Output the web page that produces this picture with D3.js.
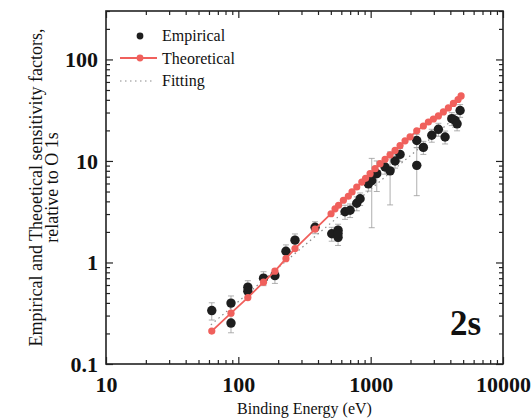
<!DOCTYPE html>
<html>
<head>
<meta charset="utf-8">
<script src="https://cdn.jsdelivr.net/npm/d3@7"></script>
<style>
  body { margin: 0; background: #fff; }
  svg { display: block; font-family: "Liberation Serif", "Times New Roman", serif; }
</style>
</head>
<body>
<div id="chart"></div>
<script>
// theoretical sensitivity factors (binding energy eV, value)
const theoE = [63, 88, 118, 155, 189, 229, 268, 380, 502, 538, 572, 622, 678, 723, 785, 857, 915, 990,
	1080, 1178, 1285, 1402, 1529, 1668, 1820, 1986, 2230, 2502, 2730, 2978, 3249, 3543, 3866, 4218, 4577, 4824];
const theoV = [0.211, 0.317, 0.451, 0.640, 0.821, 1.09, 1.37, 2.13, 3.02, 3.38, 3.66, 4.10, 4.49, 4.95, 5.54, 6.20, 6.74, 7.50,
	8.40, 9.41, 10.4, 11.5, 12.7, 14.2, 15.8, 17.3, 19.8, 22.1, 24.2, 25.9, 27.8, 30.4, 33.3, 36.9, 40.3, 43.7];

// empirical values with error
const empE = [63, 88, 88, 118, 118, 155, 189, 229, 268, 380, 508, 567, 567, 567, 640, 699, 785, 832, 961, 1019,
	1112, 1285, 1402, 1529, 1668, 2230, 2230, 2502, 2896, 3249, 3651, 4102, 4345, 4498, 4740];
const empV = [0.336, 0.398, 0.253, 0.571, 0.522, 0.701, 0.742, 1.29, 1.66, 2.22, 1.92, 2.08, 1.77, 1.93, 3.16, 3.27, 3.83, 4.24, 5.95, 6.4,
	7.50, 8.71, 7.99, 10.0, 11.6, 15.9, 9.05, 13.6, 17.9, 20.5, 17.2, 26.1, 25.1, 23.2, 31.4];
const empErr = [0.065, 0.07, 0.05, 0.09, 0.08, 0.11, 0.12, 0.2, 0.25, 0.3, 0.3, 0.3, 0.3, 0.3, 0.5, 0.5, 0.6, 0.6, 0.9, 4.2,
	2.5, 1.3, 4.3, 1.5, 1.7, 2.4, 4.5, 2.0, 2.6, 3.0, 2.5, 3.8, 3.6, 3.4, 4.5];

// fitting line end points
const fitE = [62, 4740];
const fitV = [0.243, 29.4];

const xTicks = [10, 100, 1000, 10000];
const xTickLabels = ['10', '100', '1000', '10000'];
const yTicks = [0.1, 1, 10, 100];
const yTickLabels = ['0.1', '1', '10', '100'];

const legendLabels = ['Empirical', 'Theoretical', 'Fitting'];
const xTitle = 'Binding Energy (eV)';
const yTitle = ['Empirical and Theoetical sensitivity factors,', 'relative to O 1s'];
const panelLabel = '2s';

const W = 531, H = 420;
const margin = {top: 11, right: 28, bottom: 56, left: 106};
const width = W - margin.left - margin.right;
const height = H - margin.top - margin.bottom;

const RED = '#f0605c';
const DARK = '#1e1e1e';

const svg = d3.select('#chart').append('svg')
	.attr('width', W)
	.attr('height', H);

const g = svg.append('g')
	.attr('transform', 'translate(' + margin.left + ',' + margin.top + ')');

const x = d3.scaleLog().domain([10, 10000]).range([0, width]);
const y = d3.scaleLog().domain([0.1, 300]).range([height, 0]);

const xMinor = x.ticks().filter(d => xTicks.indexOf(d) < 0);
const yMinor = y.ticks().filter(d => yTicks.map(t => +t.toPrecision(3)).indexOf(+d.toPrecision(3)) < 0);

// axes: major ticks with labels, minor ticks, mirrored on top/right
const axisStyle = (sel) => {
	sel.select('.domain').remove();
	sel.selectAll('line').attr('stroke', '#222').attr('stroke-width', 1.2);
};

g.append('g')
	.attr('transform', 'translate(0,' + height + ')')
	.call(d3.axisBottom(x).tickValues(xTicks).tickSize(-7).tickPadding(12)
		.tickFormat((d, i) => xTickLabels[i]))
	.call(axisStyle)
	.selectAll('text')
	.attr('font-family', '"Liberation Serif", serif')
	.attr('font-size', 22).attr('font-weight', 'bold').attr('fill', '#111');

g.append('g')
	.attr('transform', 'translate(0,' + height + ')')
	.call(d3.axisBottom(x).tickValues(xMinor).tickSize(-4).tickFormat(''))
	.call(axisStyle);

g.append('g')
	.call(d3.axisTop(x).tickValues(xTicks).tickSize(-7).tickFormat(''))
	.call(axisStyle);
g.append('g')
	.call(d3.axisTop(x).tickValues(xMinor).tickSize(-4).tickFormat(''))
	.call(axisStyle);

g.append('g')
	.call(d3.axisLeft(y).tickValues(yTicks).tickSize(-7).tickPadding(8)
		.tickFormat((d, i) => yTickLabels[i]))
	.call(axisStyle)
	.selectAll('text')
	.attr('font-family', '"Liberation Serif", serif')
	.attr('font-size', 22).attr('font-weight', 'bold').attr('fill', '#111');

g.append('g')
	.call(d3.axisLeft(y).tickValues(yMinor).tickSize(-4).tickFormat(''))
	.call(axisStyle);

g.append('g')
	.attr('transform', 'translate(' + width + ',0)')
	.call(d3.axisRight(y).tickValues(yTicks).tickSize(-7).tickFormat(''))
	.call(axisStyle);
g.append('g')
	.attr('transform', 'translate(' + width + ',0)')
	.call(d3.axisRight(y).tickValues(yMinor).tickSize(-4).tickFormat(''))
	.call(axisStyle);

// frame
g.append('rect')
	.attr('width', width)
	.attr('height', height)
	.attr('fill', 'none')
	.attr('stroke', '#222')
	.attr('stroke-width', 1.6);

// fitting (dotted)
const fitData = fitE.map((e, i) => ({e: e, v: fitV[i]}));
g.append('path')
	.datum(fitData)
	.attr('fill', 'none')
	.attr('stroke', '#8a8a8a')
	.attr('stroke-width', 1.2)
	.attr('stroke-dasharray', '1.5,3.5')
	.attr('d', d3.line().x(d => x(d.e)).y(d => y(d.v)));

// empirical: error bars then points
const empData = empE.map((e, i) => ({e: e, v: empV[i], err: empErr[i]}));
const eb = g.append('g').attr('stroke', '#9a9a9a').attr('stroke-width', 0.8);
eb.selectAll('line.bar').data(empData).enter().append('line')
	.attr('class', 'bar')
	.attr('x1', d => x(d.e)).attr('x2', d => x(d.e))
	.attr('y1', d => y(Math.max(d.v - d.err, 0.1))).attr('y2', d => y(d.v + d.err));
eb.selectAll('line.capu').data(empData).enter().append('line')
	.attr('class', 'capu')
	.attr('x1', d => x(d.e) - 3).attr('x2', d => x(d.e) + 3)
	.attr('y1', d => y(d.v + d.err)).attr('y2', d => y(d.v + d.err));
eb.selectAll('line.capl').data(empData).enter().append('line')
	.attr('class', 'capl')
	.attr('x1', d => x(d.e) - 3).attr('x2', d => x(d.e) + 3)
	.attr('y1', d => y(Math.max(d.v - d.err, 0.1))).attr('y2', d => y(Math.max(d.v - d.err, 0.1)));

g.append('g').selectAll('circle').data(empData).enter().append('circle')
	.attr('cx', d => x(d.e))
	.attr('cy', d => y(d.v))
	.attr('r', 4.7)
	.attr('fill', DARK);

// theoretical
const theoData = theoE.map((e, i) => ({e: e, v: theoV[i]}));
g.append('path')
	.datum(theoData)
	.attr('fill', 'none')
	.attr('stroke', RED)
	.attr('stroke-width', 1.8)
	.attr('d', d3.line().x(d => x(d.e)).y(d => y(d.v)));
g.append('g').selectAll('circle').data(theoData).enter().append('circle')
	.attr('cx', d => x(d.e))
	.attr('cy', d => y(d.v))
	.attr('r', 3.6)
	.attr('fill', RED);

// legend
const lg = svg.append('g').attr('font-size', 16).attr('fill', '#111');
lg.append('circle').attr('cx', 140).attr('cy', 36).attr('r', 3.4).attr('fill', DARK);
lg.append('line').attr('x1', 120).attr('x2', 157).attr('y1', 58).attr('y2', 58)
	.attr('stroke', RED).attr('stroke-width', 1.8);
lg.append('circle').attr('cx', 140).attr('cy', 58).attr('r', 3.4).attr('fill', RED);
lg.append('line').attr('x1', 120).attr('x2', 155).attr('y1', 81).attr('y2', 81)
	.attr('stroke', '#8a8a8a').attr('stroke-width', 1.2).attr('stroke-dasharray', '1.5,3.5');
lg.selectAll('text').data(legendLabels).enter().append('text')
	.attr('x', 162)
	.attr('y', (d, i) => [41, 64, 86][i])
	.text(d => d);

// titles
svg.append('text')
	.attr('x', margin.left + width / 2)
	.attr('y', 414)
	.attr('text-anchor', 'middle')
	.attr('font-size', 16)
	.attr('fill', '#111')
	.text(xTitle);

svg.append('g')
	.attr('transform', 'translate(0,' + (margin.top + height / 2) + ') rotate(-90)')
	.selectAll('text').data(yTitle).enter().append('text')
	.attr('x', 0)
	.attr('y', (d, i) => [42, 58][i])
	.attr('text-anchor', 'middle')
	.attr('font-size', 18)
	.attr('fill', '#111')
	.text(d => d);

svg.append('text')
	.attr('x', 450)
	.attr('y', 335)
	.attr('font-size', 35)
	.attr('font-weight', 'bold')
	.attr('fill', '#111')
	.text(panelLabel);
</script>
</body>
</html>
